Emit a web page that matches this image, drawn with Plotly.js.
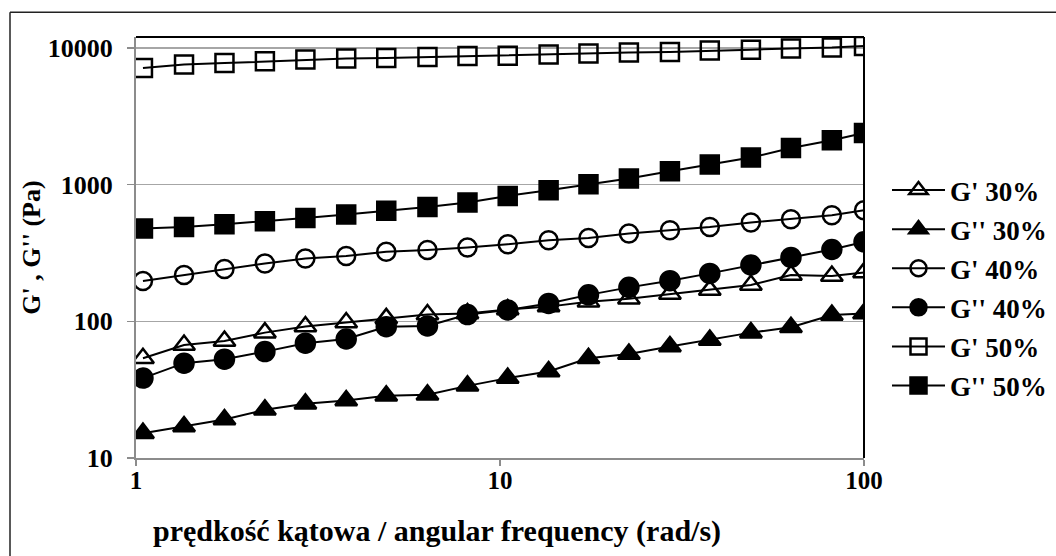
<!DOCTYPE html>
<html>
<head>
<meta charset="utf-8">
<script src="https://cdn.plot.ly/plotly-3.0.1.min.js"></script>
<style>html,body{margin:0;padding:0;background:#fff}#chart{width:1056px;height:556px}</style>
</head>
<body>
<div id="chart"></div>
<script>
// angular frequency (rad/s)
const freq = [1.045, 1.355, 1.75, 2.26, 2.92, 3.78, 4.87, 6.32, 8.14, 10.5, 13.6, 17.5, 22.6, 29.3, 37.7, 48.9, 63.0, 81.6, 100];
// moduli (Pa)
const gp30  = [53.7, 67.1, 71.8, 82.6, 91.4, 97.8, 105, 112, 114, 122, 128, 139, 146, 158, 169, 184, 218, 214, 227];
const gpp30 = [15.2, 17.0, 19.1, 22.5, 24.9, 26.3, 28.5, 29.0, 33.7, 38.4, 42.9, 53.7, 57.7, 65.3, 73.0, 82.6, 90.4, 111, 114];
const gp40  = [197, 218, 241, 265, 288, 300, 322, 332, 347, 366, 392, 407, 439, 464, 490, 528, 558, 597, 649];
const gpp40 = [38.4, 49.4, 52.8, 60.0, 69.1, 74.2, 91.3, 92.5, 112, 121, 135, 156, 177, 198, 224, 258, 293, 335, 381];
const gp50  = [7120, 7540, 7740, 7960, 8200, 8340, 8430, 8570, 8710, 8760, 8920, 9070, 9230, 9320, 9540, 9700, 9870, 10040, 10310];
const gpp50 = [477, 490, 513, 539, 570, 604, 642, 686, 739, 826, 908, 1005, 1106, 1250, 1400, 1575, 1850, 2105, 2380];

const seriesNames = ["G' 30%", "G'' 30%", "G' 40%", "G'' 40%", "G' 50%", "G'' 50%"];
const xTickVals = [1, 10, 100];
const xTickText = ["1", "10", "100"];
const yTickVals = [10, 100, 1000, 10000];
const yTickText = ["10", "100", "1000", "10000"];
const xTitle = 'prędkość kątowa / angular frequency (rad/s)';
const yTitle = "G' , G'' (Pa)";

const FONT = "Liberation Serif, Times New Roman, serif";
function tr(y, name, symbol, size) {
  return {
    x: freq, y: y, name: name, type: 'scatter', mode: 'lines+markers',
    legendgroup: name,
    line: {color: '#000', width: 2},
    marker: {symbol: symbol, size: size, color: '#000', line: {color: '#000', width: 2.5}}
  };
}
const data = [
  tr(gp30,  seriesNames[0], 'triangle-up-open', 19),
  tr(gpp30, seriesNames[1], 'triangle-up', 19),
  tr(gp40,  seriesNames[2], 'circle-open', 18),
  tr(gpp40, seriesNames[3], 'circle', 19),
  tr(gp50,  seriesNames[4], 'square-open', 18),
  tr(gpp50, seriesNames[5], 'square', 18)
];

const L = 136, R = 864, T = 36.7, B = 458, W = 1056, H = 556;
const pw = R - L, ph = B - T;
const px = v => (v - L) / pw;
const py = v => (B - v) / ph;

const layout = {
  width: W, height: H,
  margin: {l: L, r: W - R, t: T, b: H - B, pad: 0},
  paper_bgcolor: '#fff', plot_bgcolor: '#fff',
  font: {family: FONT, size: 24, color: '#000', weight: 'bold'},
  showlegend: true,
  legend: {
    xref: 'container', yref: 'container',
    x: 887 / W, xanchor: 'left', y: 1 - 166 / H, yanchor: 'top',
    font: {family: FONT, size: 27, color: '#000', weight: 'bold'},
    traceorder: 'grouped', tracegroupgap: 1, itemwidth: 53,
    bgcolor: 'rgba(0,0,0,0)', borderwidth: 0
  },
  xaxis: {
    type: 'log', range: [0, 2], tickvals: xTickVals, ticktext: xTickText,
    showgrid: false, zeroline: false,
    showline: true, linecolor: '#8c8c8c', linewidth: 2,
    ticks: 'outside', ticklen: 6, tickwidth: 1.5, tickcolor: '#8c8c8c',
    ticklabelstandoff: -7,
    tickfont: {family: FONT, size: 25, color: '#000', weight: 'bold'}
  },
  yaxis: {
    type: 'log', range: [1, Math.log10(12000)], tickvals: yTickVals, ticktext: yTickText,
    showgrid: true, gridcolor: '#a6a6a6', gridwidth: 1.5, zeroline: false,
    showline: true, linecolor: '#8c8c8c', linewidth: 2,
    ticks: 'outside', ticklen: 7, tickwidth: 1.5, tickcolor: '#8c8c8c',
    ticklabelstandoff: 9,
    tickfont: {family: FONT, size: 26, color: '#000', weight: 'bold'},
    title: {text: yTitle, standoff: 0,
            font: {family: FONT, size: 26, color: '#000', weight: 'bold'}}
  },
  annotations: [
    {text: xTitle, xref: 'paper', yref: 'paper', x: px(437), y: py(531),
     xanchor: 'center', yanchor: 'middle', showarrow: false,
     font: {family: FONT, size: 30, color: '#000', weight: 'bold'}}
  ],
  shapes: [
    {type: 'line', xref: 'paper', yref: 'paper', x0: 0, x1: 1, y0: 1, y1: 1, line: {color: '#000', width: 2}},
    {type: 'line', xref: 'paper', yref: 'paper', x0: 1, x1: 1, y0: 0, y1: 1, line: {color: '#000', width: 2}},
    {type: 'line', xref: 'paper', yref: 'paper', x0: px(10), x1: px(W), y0: py(12), y1: py(12), line: {color: '#222', width: 1.5}},
    {type: 'line', xref: 'paper', yref: 'paper', x0: px(10), x1: px(10), y0: py(12), y1: py(H), line: {color: '#222', width: 1.5}}
  ]
};
Plotly.newPlot('chart', data, layout, {staticPlot: true, displayModeBar: false});
</script>
</body>
</html>
